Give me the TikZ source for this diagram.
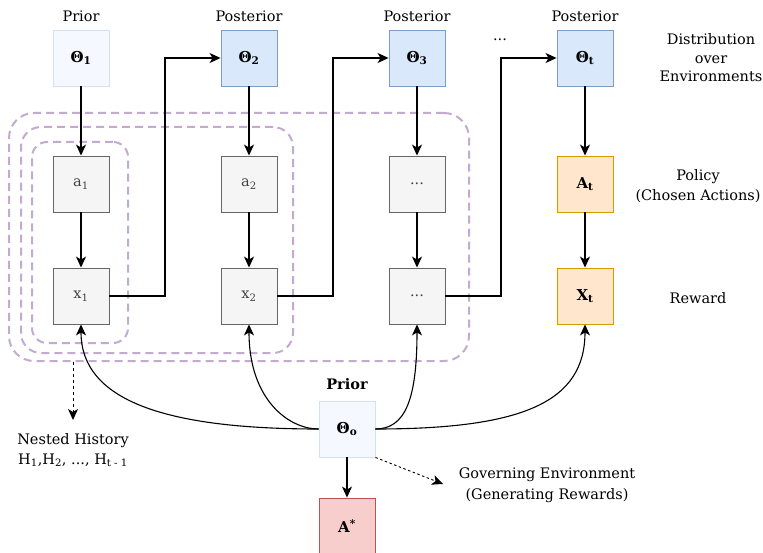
\documentclass[tikz,border=0pt]{standalone}
\usepackage{fontspec}
\setmainfont{DejaVu Serif}
\usetikzlibrary{arrows.meta, positioning, calc}

\definecolor{priorfill}{HTML}{F5F8FE}
\definecolor{priorline}{HTML}{D4E1F5}
\definecolor{postfill}{HTML}{DAE8FC}
\definecolor{postline}{HTML}{7C9CCB}
\definecolor{stepfill}{HTML}{F5F5F5}
\definecolor{stepline}{HTML}{666666}
\definecolor{optfill}{HTML}{FFE6CC}
\definecolor{optline}{HTML}{D79B00}
\definecolor{truefill}{HTML}{F8CECC}
\definecolor{trueline}{HTML}{B85450}
\definecolor{histline}{HTML}{C3ABD0}

\begin{document}
\begin{tikzpicture}[
    x=1pt, y=-1pt,
    font=\fontsize{14.5}{17}\selectfont,
    cell/.style={draw, minimum width=56pt, minimum height=56pt, inner sep=0pt,
                 line width=0.9pt, font=\fontsize{15}{17}\selectfont\bfseries},
    prior/.style={cell, fill=priorfill, draw=priorline},
    post/.style={cell, fill=postfill, draw=postline},
    stepbox/.style={cell, fill=stepfill, draw=stepline, text=black!75,
                    font=\fontsize{14.5}{17}\selectfont},
    opt/.style={cell, fill=optfill, draw=optline},
    truebox/.style={cell, fill=truefill, draw=trueline},
    hist/.style={draw=histline, line width=2pt, dash pattern=on 8pt off 5pt,
                 inner sep=0pt},
    lbl/.style={align=center},
    flow/.style={-{Stealth[length=11pt, width=10pt, inset=3pt]}, line width=1.1pt},
    hint/.style={-{Stealth[length=11pt, width=10pt, inset=3pt]}, line width=1pt,
                 dash pattern=on 3pt off 3pt}
  ]
    \useasboundingbox (0,0) rectangle (763,553);

    % history boxes
    \node[hist, rounded corners=25pt, minimum width=460pt, minimum height=248pt]
      (h3) at (239,237) {};
    \node[hist, rounded corners=20pt, minimum width=272pt, minimum height=226pt]
      (h2) at (157,240) {};
    \node[hist, rounded corners=15pt, minimum width=96pt, minimum height=201pt]
      (h1) at (80,242.5) {};

    % top row
    \node[prior] (th1) at (81,58)  {Θ\textsubscript{1}};
    \node[post]  (th2) at (249,58) {Θ\textsubscript{2}};
    \node[post]  (th3) at (417,58) {Θ\textsubscript{3}};
    \node[post]  (tht) at (585,58) {Θ\textsubscript{t}};
    \node[lbl] (l1) at (81,16)  {Prior};
    \node[lbl] (l2) at (249,16) {Posterior};
    \node[lbl] (l3) at (417,16) {Posterior};
    \node[lbl] (l4) at (585,16) {Posterior};
    \node[lbl] (dots) at (500,40) {...};

    % actions and rewards
    \node[stepbox] (a1) at (81,184)  {a\textsubscript{1}};
    \node[stepbox] (a2) at (249,184) {a\textsubscript{2}};
    \node[stepbox] (a3) at (417,184) {...};
    \node[opt]     (at) at (585,184) {A\textsubscript{t}};
    \node[stepbox] (x1) at (81,296)  {x\textsubscript{1}};
    \node[stepbox] (x2) at (249,296) {x\textsubscript{2}};
    \node[stepbox] (x3) at (417,296) {...};
    \node[opt]     (xt) at (585,296) {X\textsubscript{t}};

    % true environment
    \node[prior]   (th0) at (347,429) {Θ\textsubscript{o}};
    \node[truebox] (astar) at (347,526) {A\textsuperscript{*}};
    \node[lbl, font=\fontsize{14.5}{17}\selectfont\bfseries] (l0) at (347,384) {Prior};

    % row labels
    \node[lbl, font=\fontsize{14.5}{18.5}\selectfont] (rdist) at (711,58)
      {Distribution\\over\\Environments};
    \node[lbl, font=\fontsize{14.5}{20.5}\selectfont] (rpol) at (698,186)
      {Policy\\(Chosen Actions)};
    \node[lbl] (rrew) at (698,298) {Reward};
    \node[lbl, font=\fontsize{14.5}{20}\selectfont, inner sep=2pt] (nhist) at (73,450)
      {Nested History\\H\textsubscript{1},H\textsubscript{2}, ..., H\textsubscript{t - 1}};
    \node[lbl, font=\fontsize{14.5}{21}\selectfont] (genv) at (547,485)
      {Governing Environment\\(Generating Rewards)};
    \coordinate (nhtip) at (73,420);
    \coordinate (genvtip) at (443,484);

    % sequence
    \draw[flow] (th1) -- (a1);
    \draw[flow] (th2) -- (a2);
    \draw[flow] (th3) -- (a3);
    \draw[flow] (tht) -- (at);
    \draw[flow] (a1) -- (x1);
    \draw[flow] (a2) -- (x2);
    \draw[flow] (a3) -- (x3);
    \draw[flow] (at) -- (xt);
    \draw[flow] (x1.east) -| (165,58) -- (th2.west);
    \draw[flow] (x2.east) -| (333,58) -- (th3.west);
    \draw[flow] (x3.east) -| (501,58) -- (tht.west);

    % environment generates rewards
    \draw[flow] (th0.west) .. controls (169,429) and (81,402) .. (x1.south);
    \draw[flow] (th0.west) .. controls (289,429) and (249,400) .. (x2.south);
    \draw[flow] (th0.east) .. controls (405,429) and (417,400) .. (x3.south);
    \draw[flow] (th0.east) .. controls (523,429) and (585,402) .. (xt.south);
    \draw[flow] (th0) -- (astar);

    % notes
    \draw[hint] (h3.south -| nhtip) -- (nhtip);
    \draw[hint, dash pattern=on 2.5pt off 2.5pt, line width=0.9pt]
      (th0.south east) -- (genvtip);
  \end{tikzpicture}
\end{document}
